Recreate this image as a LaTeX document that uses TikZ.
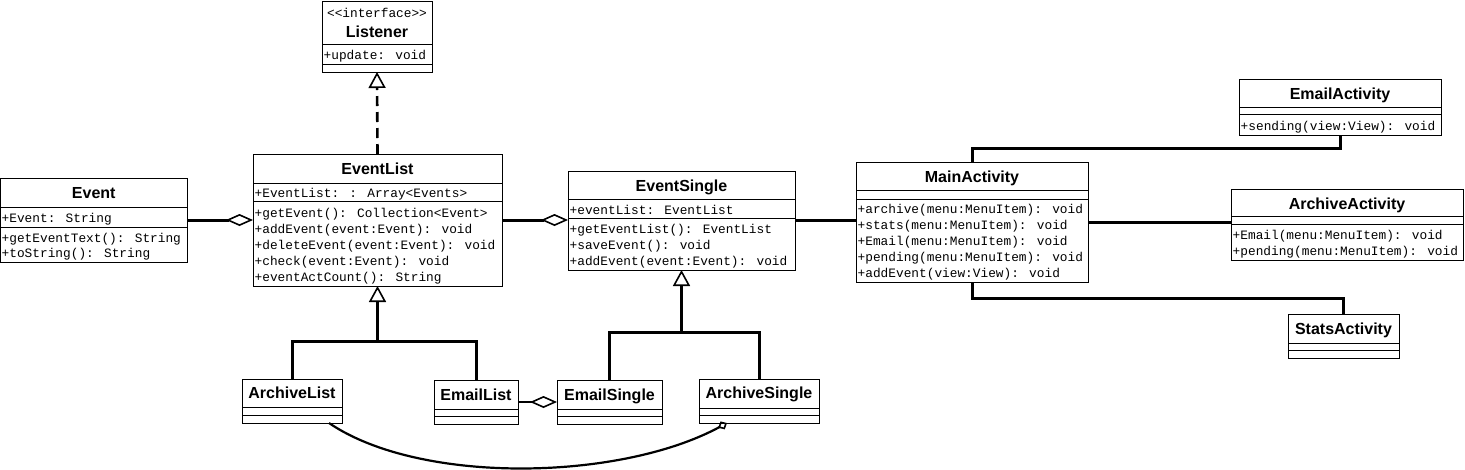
\documentclass[tikz,border=0pt]{standalone}
\usepackage{fontspec}
\setmainfont{Liberation Sans}
\newfontfamily\monof{Liberation Mono}
\usetikzlibrary{arrows.meta}
\tikzset{
  umlbox/.style={draw, line width=1pt, inner sep=0pt, outer sep=0pt, fill=white},
  ttl/.style={anchor=base, inner sep=0pt, font=\fontsize{16}{16}\selectfont\bfseries},
  mem/.style={anchor=base west, inner sep=0pt, font=\monof\fontsize{12.8}{12.8}\selectfont},
  stereo/.style={anchor=base, inner sep=0pt, font=\monof\fontsize{12.8}{12.8}\selectfont},
  sepline/.style={line width=1pt},
  conn/.style={line width=3pt},
  thinconn/.style={line width=2.2pt},
  realize/.style={line width=2.6pt, dash pattern=on 10pt off 6pt},
  inhtip/.style={-{Triangle[open, length=16pt, width=17pt, line width=1.6pt]}},
  aggtip/.style={-{Diamond[open, length=27pt, width=12pt, line width=1.6pt]}},
  smalltip/.style={-{Diamond[open, length=10pt, width=9pt, line width=1.6pt]}},
}
\newcommand\umlsep[2]{\draw[sepline] (#1.west |- 0,#2) -- (#1.east |- 0,#2);}
\begin{document}
\begin{tikzpicture}[x=1pt,y=-1pt]
\useasboundingbox (0,0) rectangle (1465,469);
\fill[white] (0,0) rectangle (1465,469);

% ---------- boxes ----------
\node[umlbox, minimum width=110, minimum height=71] (Listener) at (377,36.5) {};
\node[umlbox, minimum width=186.5, minimum height=84] (Event) at (93.75,220) {};
\node[umlbox, minimum width=249, minimum height=132] (EventList) at (377.5,220) {};
\node[umlbox, minimum width=227, minimum height=99] (EventSingle) at (681.5,220.5) {};
\node[umlbox, minimum width=232, minimum height=120] (MainActivity) at (972,222) {};
\node[umlbox, minimum width=202, minimum height=56] (EmailActivity) at (1340,107) {};
\node[umlbox, minimum width=232, minimum height=71] (ArchiveActivity) at (1347,224.5) {};
\node[umlbox, minimum width=111, minimum height=44] (StatsActivity) at (1343.5,336) {};
\node[umlbox, minimum width=100, minimum height=44] (ArchiveList) at (292,401) {};
\node[umlbox, minimum width=84, minimum height=44] (EmailList) at (476,402) {};
\node[umlbox, minimum width=105, minimum height=44] (EmailSingle) at (609.5,402) {};
\node[umlbox, minimum width=120, minimum height=44] (ArchiveSingle) at (759,401) {};

% ---------- separators ----------
\umlsep{Listener}{44}\umlsep{Listener}{64}
\umlsep{Event}{207}\umlsep{Event}{227}
\umlsep{EventList}{183}\umlsep{EventList}{201}
\umlsep{EventSingle}{199}\umlsep{EventSingle}{218}
\umlsep{MainActivity}{190}\umlsep{MainActivity}{199}
\umlsep{EmailActivity}{107}\umlsep{EmailActivity}{114}
\umlsep{ArchiveActivity}{216}\umlsep{ArchiveActivity}{224}
\umlsep{StatsActivity}{343}\umlsep{StatsActivity}{350}
\umlsep{ArchiveList}{407}\umlsep{ArchiveList}{415}
\umlsep{EmailList}{409}\umlsep{EmailList}{416}
\umlsep{EmailSingle}{409}\umlsep{EmailSingle}{416}
\umlsep{ArchiveSingle}{408}\umlsep{ArchiveSingle}{415}

% ---------- texts ----------
\node[stereo] (LiS) at (377,17) {<<interface>>};
\node[ttl] (LiT) at (377,37) {Listener};
\node[mem] (LiA) at (323.5,59) {+update: void};

\node[ttl] (EvT) at (93.75,198) {Event};
\node[mem] (EvA) at (1.5,222) {+Event: String};
\node[mem] (EvM1) at (1.5,242.5) {+getEventText(): String};
\node[mem] (EvM2) at (1.5,257.5) {+toString(): String};

\node[ttl] (ELT) at (377.5,174) {EventList};
\node[mem] (ELA) at (254.5,197) {+EventList: : Array<Events>};
\node[mem] (ELM1) at (254.5,217) {+getEvent(): Collection<Event>};
\node[mem] (ELM2) at (254.5,233) {+addEvent(event:Event): void};
\node[mem] (ELM3) at (254.5,249) {+deleteEvent(event:Event): void};
\node[mem] (ELM4) at (254.5,265) {+check(event:Event): void};
\node[mem] (ELM5) at (254.5,281) {+eventActCount(): String};

\node[ttl] (EST) at (681.5,191) {EventSingle};
\node[mem] (ESA) at (569.5,214) {+eventList: EventList};
\node[mem] (ESM1) at (569.5,233) {+getEventList(): EventList};
\node[mem] (ESM2) at (569.5,249) {+saveEvent(): void};
\node[mem] (ESM3) at (569.5,265) {+addEvent(event:Event): void};

\node[ttl] (MAT) at (972,182) {MainActivity};
\node[mem] (MAM1) at (857.5,213) {+archive(menu:MenuItem): void};
\node[mem] (MAM2) at (857.5,229) {+stats(menu:MenuItem): void};
\node[mem] (MAM3) at (857.5,245) {+Email(menu:MenuItem): void};
\node[mem] (MAM4) at (857.5,261) {+pending(menu:MenuItem): void};
\node[mem] (MAM5) at (857.5,277) {+addEvent(view:View): void};

\node[ttl] (EAT) at (1340,99) {EmailActivity};
\node[mem] (EAM1) at (1240.5,130) {+sending(view:View): void};

\node[ttl] (AAT) at (1347,209) {ArchiveActivity};
\node[mem] (AAM1) at (1232.5,239) {+Email(menu:MenuItem): void};
\node[mem] (AAM2) at (1232.5,255) {+pending(menu:MenuItem): void};

\node[ttl] (SAT) at (1343.5,334.5) {StatsActivity};
\node[ttl] (ALT) at (292,398.5) {ArchiveList};
\node[ttl] (EmLT) at (476,400.5) {EmailList};
\node[ttl] (EmST) at (609.5,400.5) {EmailSingle};
\node[ttl] (AST) at (759,398.5) {ArchiveSingle};

% ---------- connectors ----------
% realization
\draw[realize, inhtip] (EventList.north) -- (Listener.south);
% aggregations
\draw[conn, aggtip] (Event.east) -- (EventList.west);
\draw[conn, aggtip] (EventList.east) -- (EventList.east -| EventSingle.west);
\draw[thinconn, aggtip] (EmailList.east) -- (EmailSingle.west);
% associations
\draw[conn] (EventSingle.east) -- (EventSingle.east -| MainActivity.west);
\draw[conn] (MainActivity.east) -- (MainActivity.east -| ArchiveActivity.west);
\coordinate (mt) at (972,148);
\coordinate (mb) at (972,298);
\draw[conn] (MainActivity.north) -- (mt) -| (EmailActivity.south);
\draw[conn] (MainActivity.south) -- (mb) -| (StatsActivity.north);
% generalizations
\coordinate (j1) at (377.5,341);
\coordinate (j2) at (681.5,332);
\draw[conn, inhtip] (j1) -- (EventList.south);
\draw[conn] (ArchiveList.north) |- (j1) -| (EmailList.north);
\draw[conn, inhtip] (j2) -- (EventSingle.south);
\draw[conn] (EmailSingle.north) |- (j2) -| (ArchiveSingle.north);
% curved link
\draw[thinconn, smalltip] ([xshift=37pt]ArchiveList.south) .. controls (420,485) and (620,481) .. ([xshift=-32pt]ArchiveSingle.south);
\end{tikzpicture}
\end{document}
